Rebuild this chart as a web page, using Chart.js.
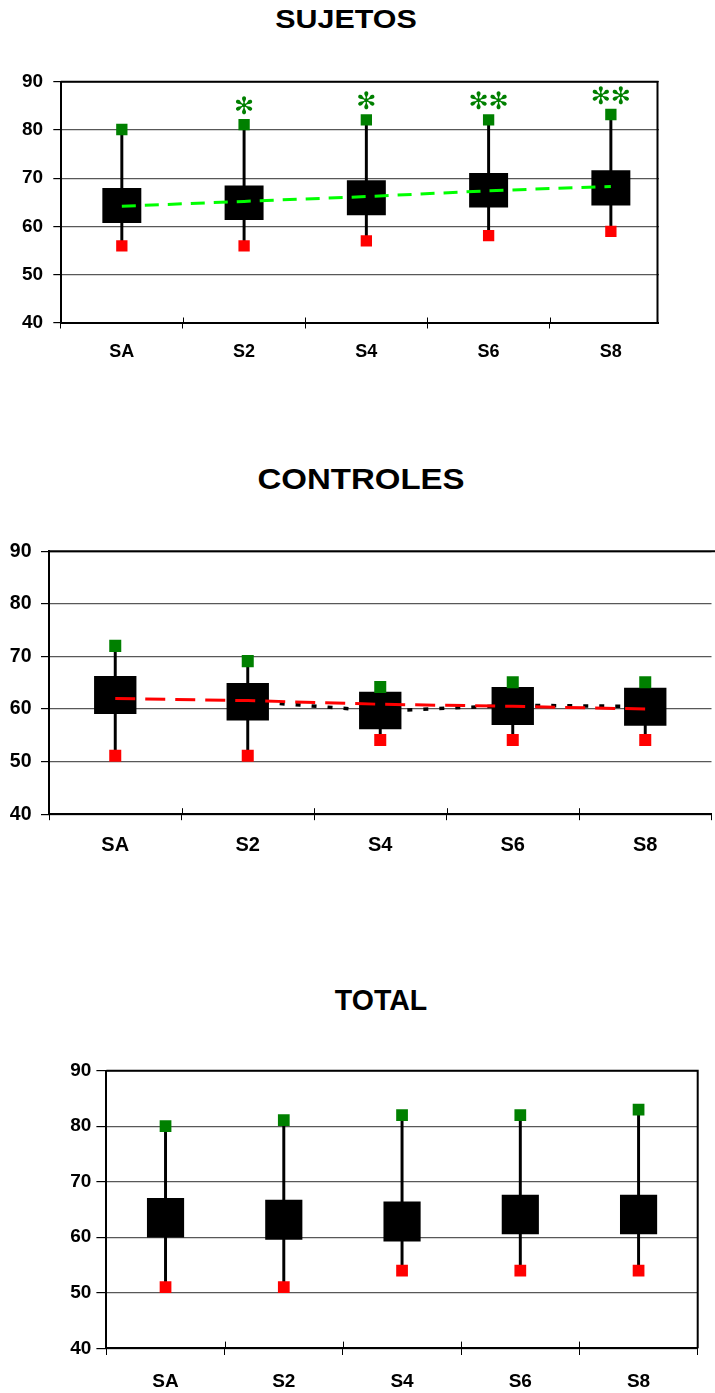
<!DOCTYPE html>
<html>
<head>
<meta charset="utf-8">
<script src="https://cdn.jsdelivr.net/npm/chart.js@4.4.1/dist/chart.umd.min.js"></script>
<style>
html, body { margin: 0; padding: 0; background: #fff; }
body { width: 715px; height: 1393px; position: relative; overflow: hidden; }
.title { position: absolute; font-family: "Liberation Sans", Arial, sans-serif; font-weight: bold;
         line-height: 1; text-align: center; white-space: nowrap; color: #000; transform-origin: 50% 50%; }
.wrap { position: absolute; left: 0; overflow: hidden; }
canvas { display: block; }
</style>
</head>
<body>
<div class="title" style="left:146px;top:6px;width:400px;font-size:26px;transform:scaleX(1.17)">SUJETOS</div>
<div class="wrap" style="top:60px;width:659px;height:320px"><canvas id="chart_sujetos" width="680" height="320"></canvas></div>

<div class="title" style="left:161px;top:464px;width:400px;font-size:30px;transform:scaleX(1.1)">CONTROLES</div>
<div class="wrap" style="top:530px;width:715px;height:340px"><canvas id="chart_controles" width="720" height="340"></canvas></div>

<div class="title" style="left:181px;top:985px;width:400px;font-size:30px;transform:scaleX(0.95)">TOTAL</div>
<div class="wrap" style="top:1050px;width:715px;height:343px"><canvas id="chart_total" width="715" height="343"></canvas></div>

<script>
var categories = ['SA', 'S2', 'S4', 'S6', 'S8'];
var yTicks = [40, 50, 60, 70, 80, 90];

// SUJETOS
var sujetosMin = [56.0, 56.0, 57.0, 58.1, 59.0];
var sujetosQ1 = [60.8, 61.4, 62.4, 64.0, 64.4];
var sujetosQ3 = [67.9, 68.4, 69.5, 71.0, 71.6];
var sujetosMax = [80.1, 81.1, 82.1, 82.1, 83.2];
var sujetosMean = [64.2, 65.2, 66.2, 67.4, 68.3];
var sujetosSig = ['', '\u273B', '\u273B', '\u273B\u273B', '\u273B\u273B'];

// CONTROLES
var controlesMin = [51.1, 51.1, 54.1, 54.1, 54.1];
var controlesQ1 = [59.1, 57.9, 56.2, 57.0, 56.9];
var controlesQ3 = [66.2, 64.9, 63.2, 64.1, 64.0];
var controlesMax = [72.0, 69.1, 64.2, 65.1, 65.1];
var controlesMean = [62.0, 61.6, 60.9, 60.5, 60.0];
var controlesAvg = [null, 61.5, 59.6, 60.7, 60.5];

// TOTAL
var totalMin = [51.0, 51.0, 54.0, 54.0, 54.0];
var totalQ1 = [60.0, 59.6, 59.3, 60.6, 60.6];
var totalQ3 = [67.0, 66.7, 66.4, 67.6, 67.6];
var totalMax = [80.0, 81.1, 82.0, 82.0, 83.0];

var FONT = 'Liberation Sans';
var GREEN = '#008000';
var RED = '#ff0000';

function pairs(a, b) {
    return a.map(function (v, i) { return [v, b[i]]; });
}

// frame round the plot + small tick marks that cross the x axis upwards
var framePlugin = {
    id: 'frame',
    afterDraw: function (chart, args, opts) {
        var ctx = chart.ctx, a = chart.chartArea;
        var right = opts.right || a.right;
        ctx.save();
        ctx.strokeStyle = '#000';
        ctx.lineWidth = 2;
        ctx.beginPath();
        ctx.moveTo(a.left, a.top);
        if (opts.open) {
            ctx.lineTo(chart.width, a.top);
        } else {
            ctx.lineTo(right, a.top);
            ctx.lineTo(right, a.bottom);
        }
        ctx.stroke();
        ctx.lineWidth = 1;
        var n = chart.data.labels.length, step = (a.right - a.left) / n;
        for (var i = 1; i < n; i++) {
            var x = Math.round(a.left + i * step) + 0.5;
            ctx.beginPath();
            ctx.moveTo(x, a.bottom - opts.tickUp);
            ctx.lineTo(x, a.bottom);
            ctx.stroke();
        }
        ctx.restore();
    }
};

// significance asterisks above the max marker
var starsPlugin = {
    id: 'stars',
    afterDatasetsDraw: function (chart, args, opts) {
        if (!opts.labels) return;
        var ctx = chart.ctx, xs = chart.scales.x, ys = chart.scales.y;
        ctx.save();
        ctx.fillStyle = GREEN;
        ctx.font = 'bold ' + opts.size + 'px "DejaVu Sans"';
        ctx.textAlign = 'center';
        ctx.textBaseline = 'middle';
        opts.labels.forEach(function (lab, i) {
            if (!lab) return;
            ctx.fillText(lab, xs.getPixelForValue(i), ys.getPixelForValue(opts.values[i]) - opts.gap);
        });
        ctx.restore();
    }
};

function boxChart(canvasId, d, g) {
    var datasets = [
        { type: 'line', data: d.mean, borderColor: d.meanColor, borderWidth: 3, borderDash: d.meanDash,
          pointRadius: 0, fill: false, order: 0 },
        { type: 'line', data: d.max, showLine: false, pointStyle: 'rect', pointRadius: g.marker,
          pointBackgroundColor: GREEN, pointBorderWidth: 0, order: 1 },
        { type: 'line', data: d.min, showLine: false, pointStyle: 'rect', pointRadius: g.marker,
          pointBackgroundColor: RED, pointBorderWidth: 0, order: 2 },
        { type: 'bar', data: pairs(d.q1, d.q3), backgroundColor: '#000', borderWidth: 0,
          barThickness: g.box, grouped: false, order: 3 },
        { type: 'bar', data: pairs(d.min, d.max), backgroundColor: '#000', borderWidth: 0,
          barThickness: 2.3, grouped: false, order: 4 }
    ];
    if (!d.mean) datasets.shift();
    if (d.avg) {
        datasets.push({ type: 'line', data: d.avg, borderColor: '#000', borderWidth: 3.5, borderDash: [5, 11],
                        pointRadius: 0, fill: false, order: 5 });
    }
    return new Chart(document.getElementById(canvasId).getContext('2d'), {
        type: 'bar',
        data: { labels: categories, datasets: datasets },
        options: {
            responsive: false,
            animation: false,
            devicePixelRatio: 1,
            layout: { padding: { top: g.top, right: g.right, bottom: 0, left: 0 } },
            plugins: {
                legend: { display: false },
                tooltip: { enabled: false },
                frame: { right: g.frameRight, open: g.open, tickUp: g.xTick },
                stars: { labels: d.sig, values: d.max, gap: 17, size: 24 }
            },
            scales: {
                x: {
                    type: 'category',
                    offset: true,
                    afterFit: function (s) { s.height = g.xHeight; },
                    grid: { offset: true, drawOnChartArea: false, drawTicks: true, tickLength: g.xTick,
                            color: '#000', lineWidth: 1 },
                    border: { display: true, color: '#000', width: 2 },
                    ticks: { color: '#000', padding: g.xPad,
                             font: { family: FONT, weight: 'bold', size: g.xFont } }
                },
                y: {
                    min: 40,
                    max: 90,
                    afterBuildTicks: function (s) { s.ticks = yTicks.map(function (v) { return { value: v }; }); },
                    afterFit: function (s) { s.width = g.yWidth; },
                    grid: { color: '#585858', lineWidth: 1.2, tickLength: g.yTick, tickColor: '#000' },
                    border: { display: true, color: '#000', width: 2 },
                    ticks: { color: '#000', padding: g.yPad,
                             font: { family: FONT, weight: 'bold', size: g.yFont } }
                }
            }
        },
        plugins: [framePlugin, starsPlugin]
    });
}

boxChart('chart_sujetos',
    { min: sujetosMin, q1: sujetosQ1, q3: sujetosQ3, max: sujetosMax, mean: sujetosMean,
      meanColor: '#00ff00', meanDash: [14, 9], sig: sujetosSig },
    { top: 21.7, right: 6.55, yWidth: 60.7, xHeight: 57, box: 38.3, marker: 8,
      xTick: 5.5, xPad: 12.7, xFont: 18, yTick: 7.4, yPad: 10.2, yFont: 19, frameRight: 657.5 });

boxChart('chart_controles',
    { min: controlesMin, q1: controlesQ1, q3: controlesQ3, max: controlesMax, mean: controlesMean,
      meanColor: RED, meanDash: [20, 10], avg: controlesAvg },
    { top: 18.3, right: 3.2, yWidth: 49, xHeight: 55.8, box: 41.7, marker: 8.5,
      xTick: 6, xPad: 13.3, xFont: 20, yTick: 8, yPad: 9.5, yFont: 19.5, open: true });

boxChart('chart_total',
    { min: totalMin, q1: totalQ1, q3: totalQ3, max: totalMax },
    { top: 20.7, right: 17.3, yWidth: 106.4, xHeight: 44.7, box: 36.5, marker: 8.3,
      xTick: 6.7, xPad: 15.3, xFont: 19, yTick: 10, yPad: 5.1, yFont: 19 });
</script>
</body>
</html>
